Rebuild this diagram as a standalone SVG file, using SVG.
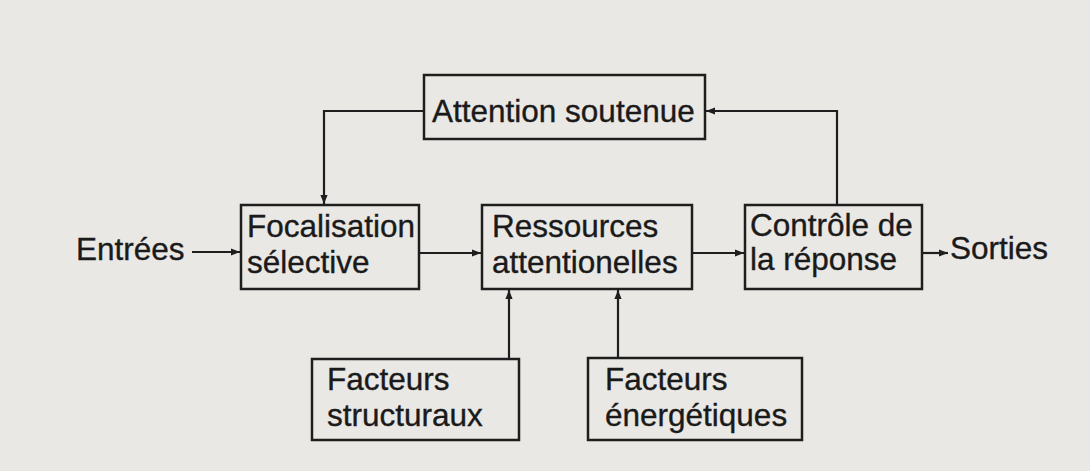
<svg xmlns="http://www.w3.org/2000/svg" width="1090" height="471" viewBox="0 0 1090 471">
<defs>
<marker id="ah" viewBox="0 0 10 10" refX="10" refY="5" markerWidth="13" markerHeight="9" markerUnits="userSpaceOnUse" orient="auto">
<path d="M0,1 L10,5 L0,9 Z" fill="#1e1e1e"/>
</marker>
<style>
.box{fill:none;stroke:#1e1e1e;stroke-width:2.5}
.t{font-family:"Liberation Sans",Arial,Helvetica,sans-serif;font-size:31.5px;fill:#1a1a1a;stroke:#1a1a1a;stroke-width:0.35}
.c{fill:none;stroke:#1e1e1e;stroke-width:2.2;marker-end:url(#ah)}
</style>
</defs>
<rect x="0" y="0" width="1090" height="471" fill="#e9e8e5"/>
<g id="attention">
<rect class="box" x="424" y="75" width="281" height="64"/>
<text class="t" x="432" y="122">Attention soutenue</text>
</g>
<g id="focalisation">
<rect class="box" x="241" y="205" width="178" height="84"/>
<text class="t" x="247" y="237">Focalisation</text>
<text class="t" x="247" y="273">sélective</text>
</g>
<g id="ressources">
<rect class="box" x="482" y="205" width="210" height="84"/>
<text class="t" x="492" y="237">Ressources</text>
<text class="t" x="492" y="273">attentionelles</text>
</g>
<g id="controle">
<rect class="box" x="745" y="205" width="177" height="84"/>
<text class="t" x="750" y="236">Contrôle de</text>
<text class="t" x="750" y="270">la réponse</text>
</g>
<g id="structuraux">
<rect class="box" x="312" y="359" width="207" height="81"/>
<text class="t" x="327" y="390">Facteurs</text>
<text class="t" x="327" y="426">structuraux</text>
</g>
<g id="energetiques">
<rect class="box" x="588" y="358" width="214" height="82"/>
<text class="t" x="605" y="390">Facteurs</text>
<text class="t" x="605" y="426">énergétiques</text>
</g>
<g id="entrees">
<text class="t" x="76" y="260">Entrées</text>
</g>
<g id="sorties">
<text class="t" x="950" y="259">Sorties</text>
</g>
<g id="connectors">
<path class="c" d="M192,252 L240,252"/>
<path class="c" d="M419,253 L481,253"/>
<path class="c" d="M692,253 L744,253"/>
<path class="c" d="M922,253 L948,253"/>
<path class="c" d="M424,111 L324,111 L324,204"/>
<path class="c" d="M837,205 L837,111 L706,111"/>
<path class="c" d="M509,358 L509,290"/>
<path class="c" d="M618,358 L618,290"/>
</g>
</svg>
